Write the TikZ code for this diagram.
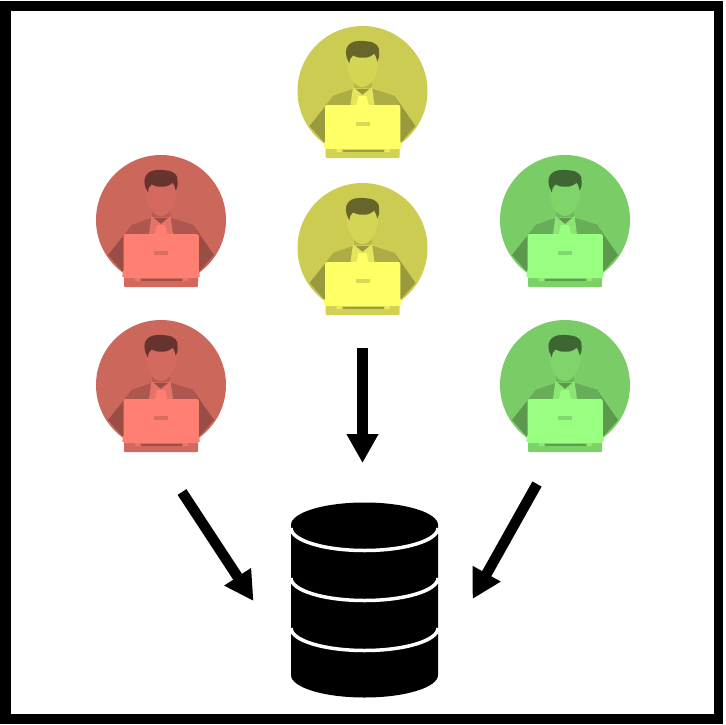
\documentclass[tikz,border=0pt]{standalone}
\usetikzlibrary{arrows.meta}

\definecolor{userred}{HTML}{FF8073}
\definecolor{useryellow}{HTML}{FFFF66}
\definecolor{usergreen}{HTML}{99FF80}

\tikzset{
    bigarrow/.style={-{Triangle[length=29pt,width=30pt]},line width=10.5pt},
    pics/person/.style={code={
        \colorlet{base}{#1}
        \fill[base!80!black] (0,0) circle (65);
        % arms and jacket
        \fill[base!60!black] (-53,35) -- (-29,5) -- (-9,-2) -- (10,-2) -- (32,5) -- (53,35) -- (37,53) -- (-37,53) -- cycle;
        \fill[base!68!black] (-29,5) -- (-9,-2) -- (-8,14) -- (-36,14) -- cycle;
        \fill[base!68!black] (32,5) -- (10,-2) -- (9,14) -- (37,14) -- cycle;
        % neck, collar, tie
        \fill[base!72!black] (-9,-16) -- (-9,-3) -- (9,-3) -- (9,-16) -- cycle;
        \fill[base!90!black] (-9.5,-4) -- (0,4) -- (9.5,-4) -- (12,14) -- (-12,14) -- cycle;
        \fill[base] (-4,5) -- (4,5) -- (6,14) -- (-6,14) -- cycle;
        % face
        \fill[base!83!black] (-15.5,-38) -- (15.5,-38) -- (15.5,-25)
            .. controls (14,-13) and (7,-4) .. (0,-4)
            .. controls (-7,-4) and (-14,-13) .. (-15.5,-25) -- cycle;
        % hair
        \fill[base!40!black] (-14.3,-30) .. controls (-18,-37) and (-18,-47) .. (-7.7,-49.5)
            .. controls (-3,-50.5) and (2,-50) .. (5.7,-49.5)
            .. controls (13,-49) and (18,-44) .. (16.5,-38.3)
            .. controls (17,-34) and (16,-32) .. (14.7,-29.3)
            .. controls (14,-33) and (13,-36) .. (11.7,-37.3)
            .. controls (8,-34) and (4,-33) .. (0.7,-33.3)
            .. controls (-3,-33) and (-7,-34) .. (-9.3,-35.7)
            .. controls (-12,-34) and (-13,-31) .. (-13.3,-27.5) -- cycle;
        % laptop
        \fill[base!82!black,rounded corners=1pt] (-37,50) rectangle (37,67);
        \fill[base!62!black] (-20,59) rectangle (21,60.5);
        \fill[base!92!black] (-26,58) rectangle (-21,61) (22,58) rectangle (27,61);
        \fill[base,rounded corners=2pt] (-37.5,14) -- (37.8,14) -- (37.8,52) -- (39.5,55) -- (38,58) -- (-38,58) -- (-39.5,55) -- (-37.5,52) -- cycle;
        \fill[base!85!black] (-7,31) rectangle (7,35);
    }}
}

\begin{document}
\begin{tikzpicture}[x=1pt,y=-1pt,line join=round]
    \useasboundingbox (0,0) rectangle (725,725);
    % frame
    \fill[black] (0,1) rectangle (723,724);
    \fill[white] (11,11) rectangle (713.5,714);

    \foreach \x/\y/\c in {161/220/userred,161/385/userred,362.5/91/useryellow,362.5/248/useryellow,565/220/usergreen,565/385/usergreen}{%
        \pic at (\x,\y) {person=\c};
    }%

    % database
    \fill[black] (291,525) arc[start angle=180,end angle=360,x radius=73.5,y radius=22.5]
        -- (438,675) arc[start angle=0,end angle=180,x radius=73.5,y radius=22.5] -- cycle;
    \foreach \y in {528,578,628}{%
        \draw[white,line width=3.5pt] (291,\y) arc[start angle=180,end angle=0,x radius=73.5,y radius=22.5];
    }%

    \coordinate (leftstart) at (182,492);
    \coordinate (leftend) at (253.5,601);
    \coordinate (midstart) at (362.5,348);
    \coordinate (midend) at (362.5,463);
    \coordinate (rightstart) at (537,484);
    \coordinate (rightend) at (472.5,599);
    \draw[bigarrow] (leftstart) -- (leftend);
    \draw[bigarrow] (midstart) -- (midend);
    \draw[bigarrow] (rightstart) -- (rightend);
\end{tikzpicture}
\end{document}
